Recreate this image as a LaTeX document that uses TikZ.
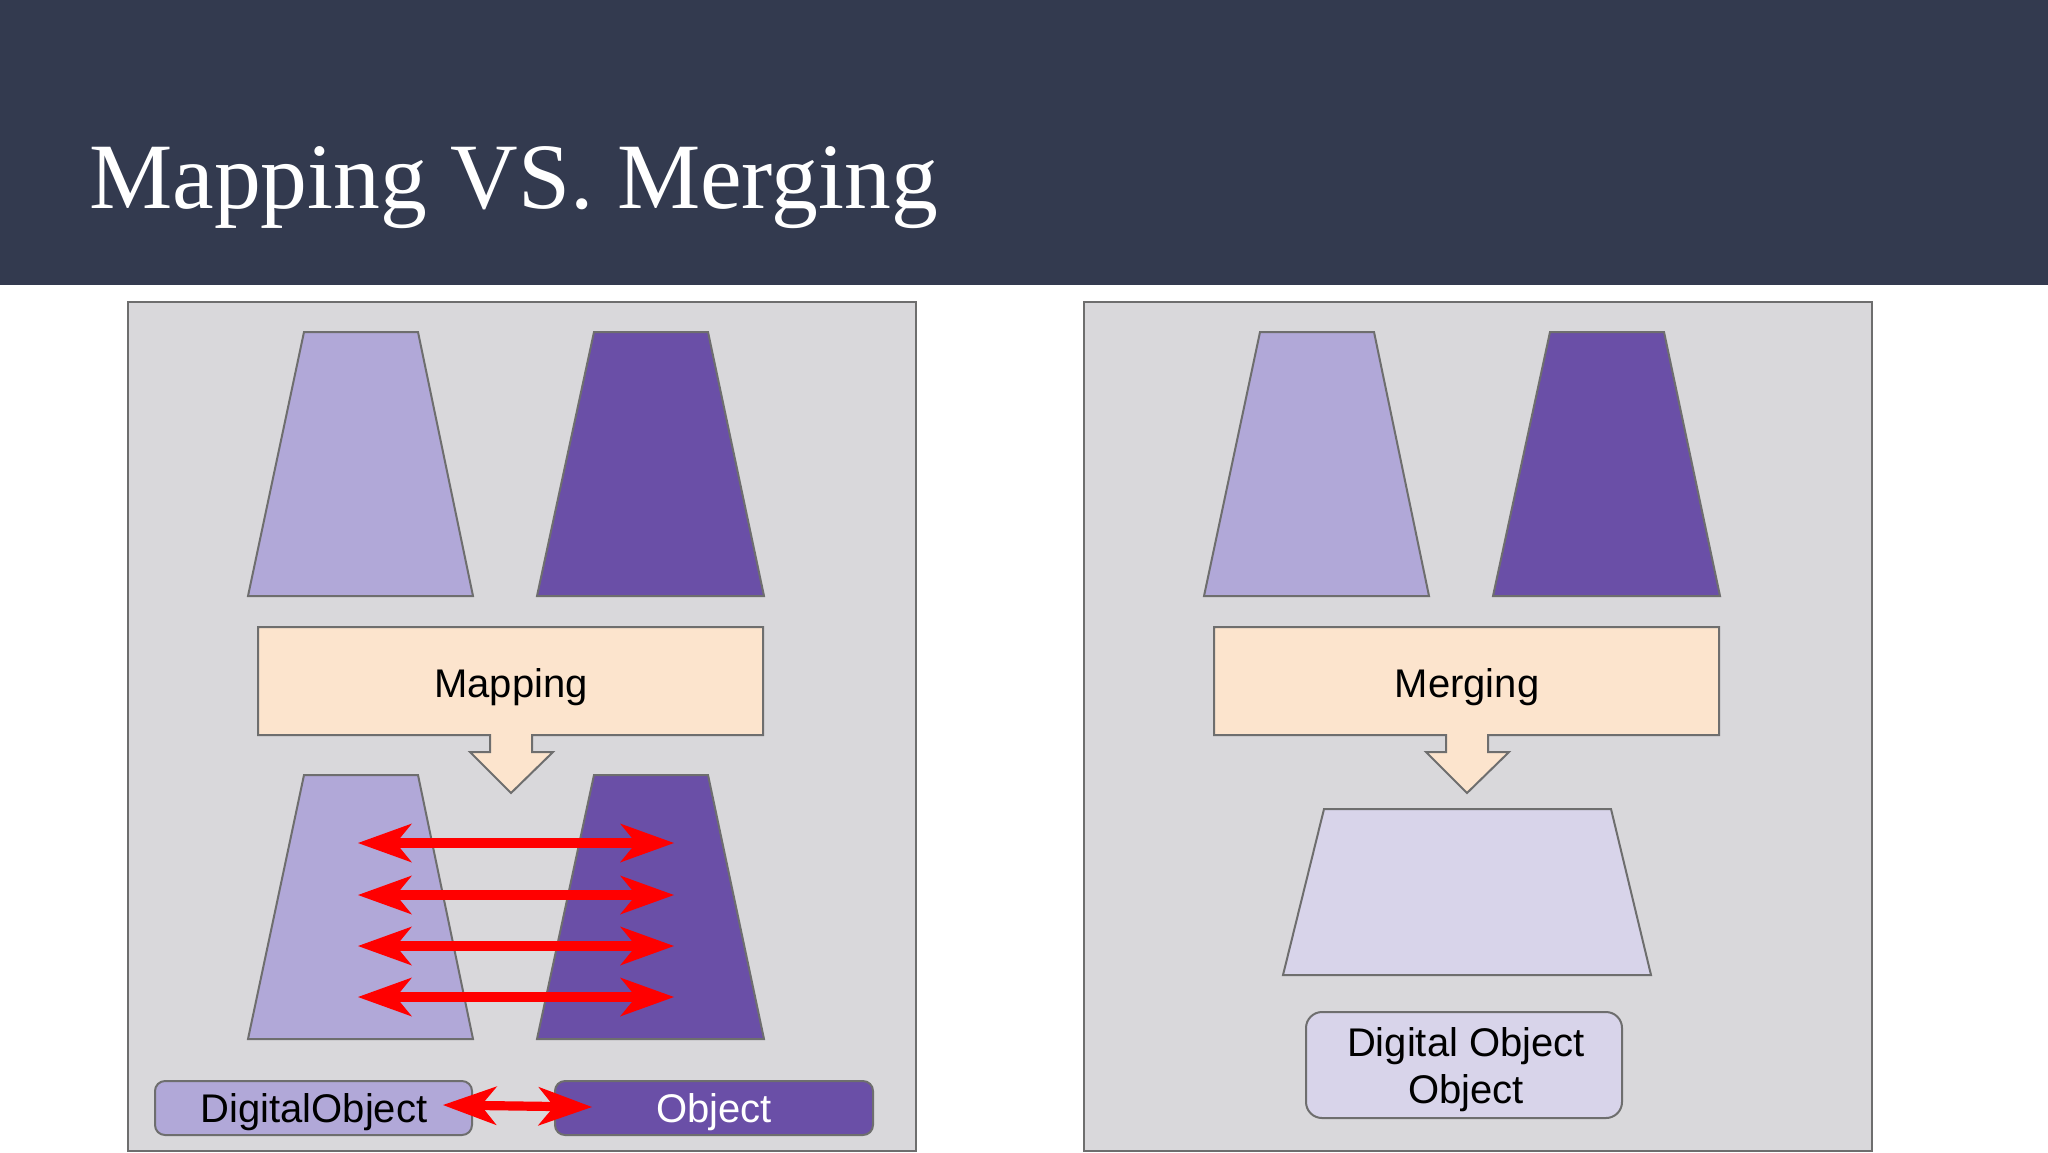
\documentclass[tikz,border=0pt]{standalone}
\usepackage{fontspec}
\setmainfont{Liberation Serif}
\newfontfamily\labelfont{Liberation Sans}
\usetikzlibrary{arrows.meta}
\definecolor{headbg}{HTML}{333A4F}
\definecolor{panelgray}{HTML}{D9D8DB}
\definecolor{edgegray}{HTML}{6E6E6E}
\definecolor{lightpurple}{HTML}{B1A8D8}
\definecolor{darkpurple}{HTML}{6A4FA7}
\definecolor{peach}{HTML}{FCE4CD}
\definecolor{lavender}{HTML}{D8D4EA}
\definecolor{arrowred}{HTML}{FF0000}
\begin{document}
\begin{tikzpicture}[x=0.5pt,y=-0.5pt,
  panel/.style={fill=panelgray, draw=edgegray, line width=1pt},
  shapeedge/.style={draw=edgegray, line width=1pt, line join=miter},
  lighttrap/.style={shapeedge, fill=lightpurple},
  darktrap/.style={shapeedge, fill=darkpurple},
  procbox/.style={shapeedge, fill=peach},
  labeltext/.style={font=\labelfont\fontsize{20pt}{24pt}\selectfont, inner sep=0pt, anchor=base},
  redarrow/.style={draw=arrowred, line width=4.6pt, {Stealth[length=27pt,width=19.5pt,inset=8pt,line width=0pt]}-{Stealth[length=27pt,width=19.5pt,inset=8pt,line width=0pt]}}
]
\useasboundingbox (0,0) rectangle (2048,1152);
\fill[white] (0,0) rectangle (2048,1152);
% header
\fill[headbg] (0,0) rectangle (2048,285);
\node[anchor=base west, inner sep=0pt, text=white, font=\fontsize{46.8pt}{50pt}\selectfont] (title) at (89,208) {Mapping VS. Merging};

% ===== left panel: Mapping =====
\draw[panel] (128,302) rectangle (916,1151);
\draw[lighttrap] (304,332) -- (418,332) -- (473,596) -- (248,596) -- cycle;
\draw[darktrap] (594,332) -- (708,332) -- (764,596) -- (537,596) -- cycle;
\draw[procbox] (258,627) -- (763,627) -- (763,735) -- (532,735) -- (532,752) -- (553,752)
  -- (511,793) -- (470,752) -- (490,752) -- (490,735) -- (258,735) -- cycle;
\node[labeltext] (maptext) at (511,697) {Mapping};
\draw[lighttrap] (304,775) -- (418,775) -- (473,1039) -- (248,1039) -- cycle;
\draw[darktrap] (594,775) -- (708,775) -- (764,1039) -- (537,1039) -- cycle;
\coordinate (l1) at (358,843); \coordinate (r1) at (674,843);
\coordinate (l2) at (358,895); \coordinate (r2) at (674,895);
\coordinate (l3) at (358,946); \coordinate (r3) at (674,946);
\coordinate (l4) at (358,997); \coordinate (r4) at (674,997);
\draw[redarrow] (l1) -- (r1);
\draw[redarrow] (l2) -- (r2);
\draw[redarrow] (l3) -- (r3);
\draw[redarrow] (l4) -- (r4);
\draw[shapeedge, fill=lightpurple, rounded corners=5pt] (155,1081) rectangle (472,1135);
\draw[shapeedge, fill=darkpurple, rounded corners=5pt] (555,1081) rectangle (873,1135);
\node[labeltext] (dobj) at (314,1122) {DigitalObject};
\node[labeltext, text=white] (obj) at (714,1122) {Object};
\coordinate (bl) at (443,1105);
\coordinate (br) at (592,1107);
\draw[redarrow] (bl) -- (br);

% ===== right panel: Merging =====
\draw[panel] (1084,302) rectangle (1872,1151);
\draw[lighttrap] (1260,332) -- (1374,332) -- (1429,596) -- (1204,596) -- cycle;
\draw[darktrap] (1550,332) -- (1664,332) -- (1720,596) -- (1493,596) -- cycle;
\draw[procbox] (1214,627) -- (1719,627) -- (1719,735) -- (1488,735) -- (1488,752) -- (1509,752)
  -- (1467,793) -- (1426,752) -- (1446,752) -- (1446,735) -- (1214,735) -- cycle;
\node[labeltext] (mergetext) at (1467,697) {Merging};
\draw[shapeedge, fill=lavender] (1324,809) -- (1611,809) -- (1651,975) -- (1283,975) -- cycle;
\draw[shapeedge, fill=lavender, rounded corners=8pt] (1306,1012) rectangle (1622,1118);
\node[labeltext] (m1) at (1466,1056) {Digital Object};
\node[labeltext] (m2) at (1466,1103) {Object};
\end{tikzpicture}
\end{document}
